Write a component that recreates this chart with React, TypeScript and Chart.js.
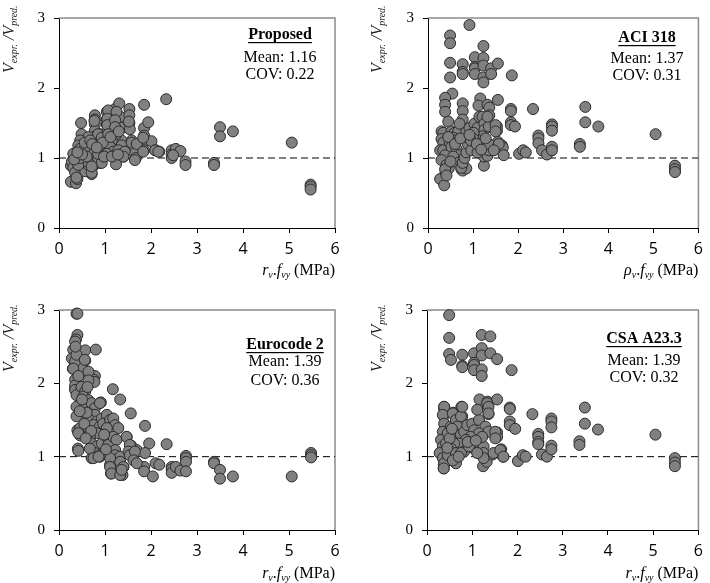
import React, { useEffect, useRef } from "react";
import { Chart, registerables } from "chart.js";

Chart.register(...registerables);

type Pt = [number, number];

// ---- Data (x: rv.fvy in MPa, y: Vexpr./Vpred.) ----
const proposedPts: Pt[] = [
  [0.26, 0.66], [0.37, 0.64], [0.38, 0.75], [0.4, 0.7], [0.26, 0.89], [0.4, 0.89], [0.48, 1.5], [0.49, 1.34],
  [0.49, 1.23], [0.67, 0.8], [0.71, 0.77], [0.75, 0.89], [0.78, 1.61], [0.78, 1.55], [0.78, 1.48], [0.78, 1.39],
  [0.89, 1.34], [0.89, 0.93], [1.04, 1.66], [1.04, 1.55], [1.04, 1.48], [1.04, 1.36], [1.04, 1.25], [1.04, 1.07],
  [1.18, 1.66], [1.22, 1.7], [1.22, 1.55], [1.22, 1.45], [1.22, 1.27], [1.24, 0.91], [1.31, 1.78], [1.33, 1.59],
  [1.36, 1.43], [1.36, 1.25], [1.4, 1.02], [1.43, 1.11], [1.53, 1.7], [1.53, 1.61], [1.53, 1.5], [1.54, 1.41],
  [1.58, 1.25], [1.65, 1.07], [1.67, 1.0], [1.85, 1.76], [1.85, 1.43], [1.85, 1.32], [1.85, 1.23], [1.85, 1.11],
  [1.94, 1.51], [2.01, 1.24], [2.1, 1.11], [2.18, 1.09], [2.33, 1.84], [2.45, 1.11], [2.45, 1.05], [2.45, 1.0],
  [2.54, 1.13], [2.64, 1.1], [2.75, 0.95], [2.75, 0.9], [3.37, 0.93], [3.37, 0.9], [3.5, 1.44], [3.5, 1.31],
  [3.78, 1.38], [5.06, 1.22], [5.47, 0.62], [5.47, 0.59], [5.47, 0.55],
  [1.07, 1.68], [1.25, 1.66], [0.77, 1.53], [1.52, 1.52], [1.05, 1.56], [1.05, 1.47], [1.22, 1.54], [1.22, 1.44],
  [1.25, 1.34], [0.79, 1.31], [0.64, 1.3], [0.85, 1.34], [0.93, 1.29], [1.07, 1.34], [1.15, 1.25], [1.36, 1.18],
  [0.46, 1.25], [0.42, 1.18], [0.46, 1.13], [0.35, 1.06], [0.31, 1.06], [0.6, 1.18], [0.71, 1.13], [0.75, 1.06],
  [0.89, 1.11], [0.93, 1.18], [1.11, 1.16], [1.18, 1.09], [1.29, 1.11], [1.43, 1.09], [1.58, 1.22], [1.69, 1.2],
  [1.83, 1.29], [2.09, 1.11], [2.16, 1.09], [2.48, 1.04], [0.28, 0.95], [0.31, 0.86], [0.35, 0.79], [0.38, 0.72],
  [0.57, 0.81], [0.64, 0.9], [0.53, 0.95], [0.67, 1.0], [0.78, 0.97], [0.85, 1.0], [0.93, 0.93], [0.71, 0.79],
  [0.71, 0.88], [0.42, 0.9], [0.46, 1.0], [0.64, 1.06], [0.85, 1.06], [1.04, 1.06], [1.4, 1.02], [1.65, 0.97],
  [1.83, 1.09], [0.55, 1.12], [0.6, 1.02], [0.33, 0.98], [0.5, 1.05], [0.56, 1.22], [0.68, 1.25], [0.72, 1.2],
  [0.95, 1.22], [1.12, 1.3], [1.3, 1.38], [0.98, 1.02], [1.15, 1.02], [1.28, 1.05], [0.82, 1.15], [0.4, 1.08],
];

const aciPts: Pt[] = [
  [0.92, 2.9], [0.49, 2.75], [0.49, 2.64], [0.49, 2.36], [0.49, 2.15], [0.54, 1.92], [0.38, 1.86], [0.38, 1.76],
  [0.38, 1.66], [0.45, 1.52], [0.77, 2.34], [0.77, 2.23], [0.77, 2.2], [0.77, 1.78], [0.77, 1.67], [0.77, 1.55],
  [1.04, 2.44], [1.04, 2.3], [1.04, 2.28], [1.04, 2.2], [1.23, 2.6], [1.23, 2.43], [1.23, 2.32], [1.23, 2.15],
  [1.23, 2.08], [1.4, 2.28], [1.4, 2.2], [1.55, 2.35], [1.86, 2.18], [1.16, 1.85], [1.12, 1.75], [1.32, 1.76],
  [1.36, 1.72], [1.36, 1.61], [1.55, 1.83], [1.84, 1.7], [1.84, 1.67], [1.84, 1.51], [1.84, 1.47], [1.93, 1.45],
  [2.33, 1.7], [2.02, 1.06], [2.11, 1.11], [2.17, 1.08], [2.45, 1.32], [2.45, 1.28], [2.45, 1.21], [2.53, 1.11],
  [2.64, 1.05], [2.75, 1.48], [2.75, 1.45], [2.75, 1.39], [2.75, 1.16], [2.75, 1.11], [3.37, 1.2], [3.37, 1.16],
  [3.49, 1.73], [3.49, 1.51], [3.78, 1.45], [5.05, 1.34], [5.48, 0.89], [5.48, 0.84], [5.48, 0.8],
  [0.27, 0.7], [0.36, 0.61], [0.39, 0.8], [0.41, 0.89], [0.46, 0.85], [0.74, 0.84], [0.77, 0.82], [0.85, 0.85],
  [0.74, 0.9], [1.24, 0.89], [1.24, 1.02], [1.32, 1.03], [1.45, 1.12], [1.64, 1.18], [1.66, 1.15], [1.68, 1.04],
  [1.55, 1.23], [1.53, 1.39], [1.53, 1.45], [1.37, 1.45], [0.62, 1.07],
  [0.3, 1.38], [0.34, 1.36], [0.3, 1.27], [0.34, 1.22], [0.27, 1.11], [0.34, 1.11], [0.38, 1.04], [0.3, 0.97],
  [0.41, 0.9], [0.38, 0.84], [0.41, 0.75], [0.52, 1.38], [0.59, 1.36], [0.67, 1.38], [0.56, 1.29], [0.63, 1.25],
  [0.48, 1.22], [0.52, 1.16], [0.63, 1.13], [0.7, 1.04], [0.56, 1.02], [0.67, 0.93], [0.74, 0.86], [0.77, 0.93],
  [0.81, 1.0], [0.85, 1.08], [0.88, 1.2], [0.88, 1.29], [0.85, 1.38], [0.92, 1.43], [1.03, 1.49], [1.1, 1.43],
  [1.14, 1.59], [1.21, 1.59], [1.25, 1.49], [1.25, 1.4], [1.21, 1.31], [1.14, 1.25], [1.03, 1.16], [0.96, 1.11],
  [1.1, 1.08], [1.25, 1.16], [1.35, 1.11], [1.35, 1.2], [1.35, 1.45], [1.5, 1.47], [1.5, 1.38], [1.57, 1.2],
  [1.46, 1.11], [1.32, 1.59], [1.01, 1.36], [1.01, 1.27], [0.7, 1.49], [0.45, 1.3], [0.6, 1.2], [0.72, 1.28],
  [0.95, 1.25], [1.08, 1.2], [1.18, 1.12], [0.5, 0.95], [0.92, 1.33], [1.28, 1.28],
];

const eurocodePts: Pt[] = [
  [0.38, 2.95], [0.4, 2.95], [0.4, 2.66], [0.37, 2.6], [0.35, 2.46], [0.3, 2.33], [0.3, 2.2], [0.57, 2.45],
  [0.8, 2.46], [0.57, 2.31], [0.64, 2.15], [0.78, 2.1], [0.75, 2.05], [0.49, 2.2], [0.35, 2.05], [0.35, 1.93],
  [0.49, 1.95], [1.17, 1.92], [1.33, 1.78], [1.56, 1.59], [0.91, 1.74], [1.87, 1.42], [1.96, 1.18], [2.34, 1.17],
  [0.4, 1.36], [0.46, 1.29], [0.41, 1.11], [0.42, 1.08], [0.71, 0.98], [0.89, 1.0], [1.47, 1.27], [1.57, 1.15],
  [1.69, 1.09], [1.87, 1.05], [1.11, 1.0], [1.11, 0.89], [1.13, 0.77], [1.38, 0.75], [1.4, 0.86], [1.25, 0.89],
  [1.85, 0.86], [1.85, 0.8], [2.04, 0.73], [2.1, 0.91], [2.18, 0.89], [2.45, 0.86], [2.45, 0.83], [2.45, 0.78],
  [2.54, 0.86], [2.64, 0.81], [2.76, 1.01], [2.76, 0.98], [2.76, 0.93], [2.76, 0.8], [3.37, 0.93], [3.37, 0.91],
  [3.5, 0.82], [3.5, 0.7], [3.78, 0.73], [5.06, 0.73], [5.48, 1.05], [5.48, 1.02], [5.48, 0.99],
  [0.35, 2.57], [0.31, 2.46], [0.28, 2.34], [0.35, 2.3], [0.31, 2.2], [0.38, 2.39], [0.36, 2.5], [0.56, 2.32],
  [0.64, 2.16], [0.77, 2.02], [0.64, 2.04], [0.35, 1.97], [0.35, 1.91], [0.38, 1.84],
  [0.49, 1.95], [0.57, 1.89], [0.53, 1.82], [0.64, 1.77], [0.46, 1.7], [0.38, 1.68], [0.57, 1.68], [0.71, 1.73],
  [0.78, 1.66], [0.89, 1.73], [0.64, 1.59], [0.78, 1.57], [0.53, 1.55], [0.67, 1.5], [0.82, 1.48], [0.93, 1.52],
  [1.04, 1.57], [0.38, 1.55], [0.46, 1.39], [0.42, 1.32], [0.64, 1.39], [0.75, 1.43], [0.89, 1.41], [0.96, 1.45],
  [1.11, 1.5], [1.18, 1.52], [1.22, 1.43], [1.29, 1.39], [1.04, 1.39], [0.82, 1.32], [0.67, 1.27], [0.71, 1.18],
  [0.82, 1.14], [0.78, 1.05], [0.67, 1.11], [0.93, 1.18], [1.04, 1.27], [1.07, 1.16], [1.18, 1.27], [1.25, 1.23],
  [1.22, 1.09], [1.22, 1.02], [1.33, 1.0], [1.47, 1.27], [1.54, 1.16], [1.51, 1.07], [1.54, 1.02], [1.65, 1.07],
  [1.62, 0.95], [1.69, 0.91], [1.33, 0.93], [1.4, 0.86], [1.11, 0.98], [1.11, 0.86], [1.14, 0.77], [1.33, 0.75],
  [1.36, 0.82], [0.89, 1.02], [0.75, 0.98], [0.86, 1.0], [0.55, 1.45], [0.6, 1.6], [0.45, 1.62], [0.7, 1.35],
  [0.98, 1.3], [1.02, 1.1], [0.58, 1.25], [0.5, 1.78], [0.62, 1.95], [0.42, 2.1],
];

const csaPts: Pt[] = [
  [0.49, 2.93], [0.49, 2.62], [0.49, 2.4], [0.53, 2.32], [0.78, 2.39], [0.78, 2.24], [0.78, 2.22], [1.04, 2.41],
  [1.04, 2.28], [1.04, 2.25], [1.04, 2.18], [1.21, 2.66], [1.21, 2.48], [1.21, 2.38], [1.21, 2.19], [1.21, 2.1],
  [1.4, 2.64], [1.4, 2.41], [1.55, 2.33], [1.87, 2.18], [1.16, 1.78], [1.34, 1.75], [1.34, 1.7], [1.55, 1.78],
  [1.36, 1.58], [1.83, 1.67], [1.83, 1.65], [1.83, 1.48], [1.83, 1.43], [1.95, 1.38], [2.33, 1.58], [2.01, 0.94],
  [2.12, 1.02], [2.18, 1.0], [2.46, 1.31], [2.46, 1.27], [2.46, 1.2], [2.46, 1.17], [2.54, 1.03], [2.65, 1.0],
  [2.75, 1.52], [2.75, 1.48], [2.75, 1.4], [2.75, 1.15], [2.75, 1.1], [3.37, 1.21], [3.37, 1.16], [3.49, 1.67],
  [3.49, 1.45], [3.78, 1.37], [5.05, 1.3], [5.48, 0.98], [5.48, 0.92], [5.48, 0.87],
  [0.58, 1.6], [0.38, 1.68], [0.38, 1.65], [0.37, 1.55], [0.78, 1.55], [0.76, 1.68], [0.37, 0.84], [0.37, 0.89],
  [0.3, 1.05], [0.56, 0.95], [0.64, 0.91], [1.24, 0.87], [1.32, 0.93], [1.45, 1.03], [1.64, 1.1], [1.68, 1.0],
  [1.55, 1.33], [1.55, 1.27],
  [0.38, 1.68], [0.35, 1.57], [0.38, 1.45], [0.35, 1.34], [0.31, 1.23], [0.35, 1.14], [0.28, 1.05], [0.35, 0.98],
  [0.38, 0.91], [0.37, 0.84], [0.46, 1.32], [0.57, 1.59], [0.53, 1.41], [0.64, 1.5], [0.75, 1.55], [0.78, 1.68],
  [0.67, 1.41], [0.6, 1.32], [0.75, 1.3], [0.82, 1.34], [0.89, 1.43], [1.0, 1.45], [1.04, 1.36], [1.15, 1.5],
  [1.11, 1.64], [1.33, 1.73], [1.36, 1.68], [1.36, 1.59], [1.29, 1.41], [1.15, 1.32], [0.96, 1.27], [0.86, 1.23],
  [0.71, 1.18], [0.6, 1.18], [0.53, 1.11], [0.46, 1.02], [0.64, 1.05], [0.82, 1.07], [1.04, 1.11], [1.15, 1.18],
  [1.25, 1.14], [1.36, 1.34], [1.51, 1.34], [1.51, 1.25], [1.25, 1.05], [1.25, 0.98], [1.47, 1.05], [1.62, 1.09],
  [1.69, 1.0], [0.57, 0.95], [0.75, 1.05], [0.93, 1.14], [1.11, 1.05], [1.22, 1.27], [0.42, 1.18], [0.5, 1.25],
  [0.7, 1.0], [0.9, 1.2], [1.08, 1.22], [0.55, 1.38], [0.45, 1.12],
];

const refLineX = [0, 6];
const refLineY = [1, 1];
const xTicks = [0, 1, 2, 3, 4, 5, 6];
const yTicks = [0, 1, 2, 3];

type PanelCfg = {
  pts: Pt[];
  name: string;
  mean: string;
  cov: string;
  xVar: string;
  left: number;
  top: number;
  w: number;
  h: number;
  axisW: number;
  padRight: number;
  padTop: number;
  bottomH: number;
  annX: number;
  annY: [number, number, number];
  yTitleX: number;
  yTitleStart: number;
  xTitleY: number;
};

const SERIF = '"Liberation Serif", "Times New Roman", serif';
const SANS = '"Open Sans", "DejaVu Sans", sans-serif';

function Panel({ cfg }: { cfg: PanelCfg }) {
  const ref = useRef<HTMLCanvasElement | null>(null);
  useEffect(() => {
    if (!ref.current) return;
    const decor = {
      id: "decor",
      beforeDatasetsDraw(chart: any) {
        const { ctx, chartArea } = chart;
        ctx.save();
        ctx.strokeStyle = "#8c8c8c";
        ctx.lineWidth = 1.5;
        ctx.beginPath();
        ctx.moveTo(chartArea.left, chartArea.top);
        ctx.lineTo(chartArea.right, chartArea.top);
        ctx.lineTo(chartArea.right, chartArea.bottom);
        ctx.stroke();
        ctx.restore();
      },
      afterDraw(chart: any) {
        const { ctx, chartArea } = chart;
        ctx.save();
        ctx.fillStyle = "#000";
        // annotation
        ctx.textAlign = "center";
        ctx.textBaseline = "middle";
        ctx.font = `bold 16px ${SERIF}`;
        ctx.fillText(cfg.name, cfg.annX, cfg.annY[0]);
        const tw = ctx.measureText(cfg.name).width;
        ctx.fillRect(cfg.annX - tw / 2, cfg.annY[0] + 7, tw, 1.2);
        ctx.font = `16px ${SERIF}`;
        ctx.fillText(`Mean: ${cfg.mean}`, cfg.annX, cfg.annY[1]);
        ctx.fillText(`COV: ${cfg.cov}`, cfg.annX, cfg.annY[2]);

        // y title, rotated
        ctx.save();
        ctx.translate(cfg.yTitleX, cfg.yTitleStart);
        ctx.rotate(-Math.PI / 2);
        ctx.textAlign = "left";
        ctx.textBaseline = "alphabetic";
        ctx.fillStyle = "#222";
        let cx = 0;
        const seg = (t: string, font: string, dy: number) => {
          ctx.font = font;
          ctx.fillText(t, cx, dy);
          cx += ctx.measureText(t).width;
        };
        seg("V", `italic 16px ${SERIF}`, 0);
        seg("expr.", `italic 10px ${SERIF}`, 3);
        seg(" /V", `italic 16px ${SERIF}`, 0);
        seg("pred.", `italic 10px ${SERIF}`, 3);
        ctx.restore();

        // x title, right-aligned at chartArea.right
        const parts: [string, string, number][] = [
          [cfg.xVar, `italic 16px ${SERIF}`, 0],
          ["v", `italic 10px ${SERIF}`, 3],
          [".", `16px ${SERIF}`, 0],
          ["f", `italic 16px ${SERIF}`, 0],
          ["vy", `italic 10px ${SERIF}`, 3],
          [" (MPa)", `16px ${SERIF}`, 0],
        ];
        let total = 0;
        for (const p of parts) {
          ctx.font = p[1];
          total += ctx.measureText(p[0]).width;
        }
        let px = chartArea.right - total;
        ctx.textAlign = "left";
        ctx.textBaseline = "alphabetic";
        ctx.fillStyle = "#000";
        for (const p of parts) {
          ctx.font = p[1];
          ctx.fillText(p[0], px, cfg.xTitleY + p[2]);
          px += ctx.measureText(p[0]).width;
        }
        ctx.restore();
      },
    };

    const chart = new Chart(ref.current, {
      type: "scatter",
      data: {
        datasets: [
          {
            type: "line",
            data: refLineX.map((x, i) => ({ x, y: refLineY[i] })),
            borderColor: "#000",
            borderWidth: 1,
            borderDash: [7, 4],
            pointRadius: 0,
            fill: false,
            order: 2,
          } as any,
          {
            data: cfg.pts.map(([x, y]) => ({ x, y })),
            backgroundColor: "#808080",
            borderColor: "#2b2b2b",
            borderWidth: 1,
            pointRadius: 5.5,
            clip: false,
            order: 1,
          } as any,
        ],
      },
      options: {
        animation: false,
        responsive: false,
        maintainAspectRatio: false,
        events: [],
        layout: { padding: { left: 0, top: cfg.padTop, right: cfg.padRight, bottom: 0 } },
        plugins: { legend: { display: false }, tooltip: { enabled: false }, title: { display: false } },
        scales: {
          x: {
            type: "linear",
            min: 0,
            max: 6,
            afterBuildTicks: (s: any) => {
              s.ticks = xTicks.map((v) => ({ value: v }));
            },
            afterFit: (s: any) => {
              s.height = cfg.bottomH;
            },
            ticks: { font: { family: SANS, size: 16 }, color: "#000", padding: 7, maxRotation: 0 },
            grid: { drawOnChartArea: false, drawTicks: true, tickLength: 5, color: "#000" },
            border: { display: true, color: "#000", width: 1 },
          },
          y: {
            type: "linear",
            min: 0,
            max: 3,
            afterBuildTicks: (s: any) => {
              s.ticks = yTicks.map((v) => ({ value: v }));
            },
            afterFit: (s: any) => {
              s.width = cfg.axisW;
            },
            ticks: { font: { family: SERIF, size: 15 }, color: "#000", padding: 9 },
            grid: { drawOnChartArea: false, drawTicks: true, tickLength: 5, color: "#000" },
            border: { display: true, color: "#000", width: 1 },
          },
        },
      } as any,
      plugins: [decor],
    });
    return () => chart.destroy();
  }, [cfg]);
  return (
    <canvas
      ref={ref}
      width={cfg.w}
      height={cfg.h}
      style={{ position: "absolute", left: cfg.left, top: cfg.top, width: cfg.w, height: cfg.h }}
    />
  );
}

const panels: PanelCfg[] = [
  {
    pts: proposedPts, name: "Proposed", mean: "1.16", cov: "0.22", xVar: "r",
    left: 0, top: 0, w: 355, h: 290, axisW: 59, padRight: 20, padTop: 8, bottomH: 62,
    annX: 280, annY: [35, 58, 75], yTitleX: 14, yTitleStart: 73, xTitleY: 275,
  },
  {
    pts: aciPts, name: "ACI 318", mean: "1.37", cov: "0.31", xVar: "\u03c1",
    left: 355, top: 0, w: 355, h: 290, axisW: 73, padRight: 6, padTop: 8, bottomH: 62,
    annX: 292, annY: [38, 59, 76], yTitleX: 27, yTitleStart: 73, xTitleY: 275,
  },
  {
    pts: eurocodePts, name: "Eurocode 2", mean: "1.39", cov: "0.36", xVar: "r",
    left: 0, top: 290, w: 355, h: 293, axisW: 59, padRight: 20, padTop: 20, bottomH: 53,
    annX: 285, annY: [55, 72, 91], yTitleX: 14, yTitleStart: 82, xTitleY: 288,
  },
  {
    pts: csaPts, name: "CSA A23.3", mean: "1.39", cov: "0.32", xVar: "r",
    left: 355, top: 290, w: 355, h: 293, axisW: 72, padRight: 6, padTop: 20, bottomH: 53,
    annX: 289, annY: [49, 71, 88], yTitleX: 27, yTitleStart: 82, xTitleY: 288,
  },
];

export default function App() {
  return (
    <div style={{ position: "fixed", left: 0, top: 0, width: 710, height: 583, background: "#fff" }}>
      {panels.map((p, i) => (
        <Panel key={i} cfg={p} />
      ))}
    </div>
  );
}
